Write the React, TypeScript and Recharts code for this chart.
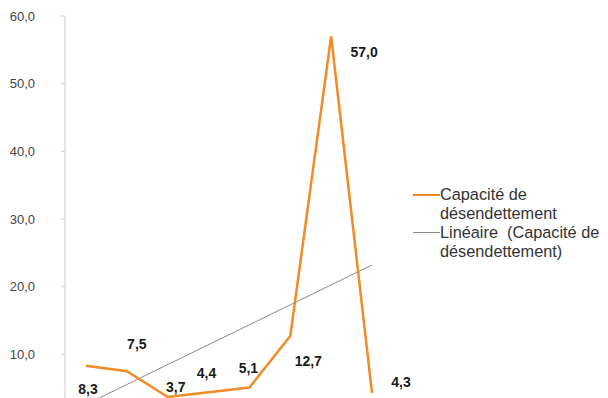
import { LabelList, Line, LineChart, XAxis, YAxis } from 'recharts';

const YEARS = ['1', '2', '3', '4', '5', '6', '7', '8'];
const CAPACITY = [8.3, 7.5, 3.7, 4.4, 5.1, 12.7, 57.0, 4.3];
// linear trend end points (first and last category)
const TREND_ENDS = [2.6, 23.2];
const Y_TICKS = [10, 20, 30, 40, 50, 60];

const ORANGE = '#f28a26';
const GREY = '#8a8a8a';
const FONT = '"Liberation Sans", Arial, sans-serif';

// where each value label sits relative to its point
const LABEL_OFFSETS: [number, number][] = [
  [2, 23],
  [10, -27],
  [8, -10],
  [-2, -19],
  [-1, -19],
  [18, 25],
  [33, 16],
  [29, -11],
];

const fmt = (v: number) => v.toFixed(1).replace('.', ',');

const data = YEARS.map((year, i) => ({
  year,
  capacity: CAPACITY[i],
  trend: i === 0 ? TREND_ENDS[0] : i === YEARS.length - 1 ? TREND_ENDS[1] : null,
}));

function ValueLabel(props: any) {
  const { x, y, value, index } = props;
  const [dx, dy] = LABEL_OFFSETS[index] || [0, -15];
  return (
    <text
      x={x + dx}
      y={y + dy}
      textAnchor="middle"
      dominantBaseline="central"
      fontFamily={FONT}
      fontSize={14}
      fontWeight="bold"
      fill="#1a1a1a"
    >
      {fmt(value)}
    </text>
  );
}

function LegendBox() {
  const row = { display: 'flex', alignItems: 'flex-start' } as const;
  const text = { fontFamily: FONT, fontSize: 16.3, lineHeight: '19px', color: '#333' };
  return (
    <div style={{ position: 'absolute', left: 413, top: 185, width: 195 }}>
      <div style={row}>
        <span style={{ width: 27, height: 2, background: ORANGE, marginTop: 9, flex: 'none' }} />
        <span style={text}>
          Capacité de
          <br />
          désendettement
        </span>
      </div>
      <div style={row}>
        <span style={{ width: 27, height: 1, background: GREY, marginTop: 9, flex: 'none' }} />
        <span style={{ ...text, whiteSpace: 'nowrap' }}>
          Linéaire&nbsp; (Capacité de
          <br />
          désendettement)
        </span>
      </div>
    </div>
  );
}

export default function App() {
  return (
    <div style={{ width: 608, height: 398, overflow: 'hidden', background: '#fff', position: 'relative' }}>
      <style>{'body{margin:0;overflow:hidden}'}</style>
      <LineChart width={608} height={440} data={data} margin={{ top: 16, right: 215, bottom: 18, left: 0 }}>
        <XAxis dataKey="year" hide padding={{ left: 21, right: 21 }} />
        <YAxis
          width={65}
          domain={[0, 60]}
          ticks={Y_TICKS}
          tickFormatter={fmt}
          tickSize={4}
          tickMargin={26}
          axisLine={{ stroke: '#cfcfcf' }}
          tickLine={{ stroke: '#cfcfcf' }}
          tick={{ fill: '#444', fontSize: 13, fontFamily: FONT }}
        />
        <Line
          dataKey="trend"
          stroke={GREY}
          strokeWidth={1}
          dot={false}
          connectNulls
          isAnimationActive={false}
        />
        <Line
          dataKey="capacity"
          stroke={ORANGE}
          strokeWidth={2.5}
          strokeLinejoin="miter"
          dot={false}
          isAnimationActive={false}
        >
          <LabelList dataKey="capacity" content={ValueLabel} />
        </Line>
      </LineChart>
      <LegendBox />
    </div>
  );
}
